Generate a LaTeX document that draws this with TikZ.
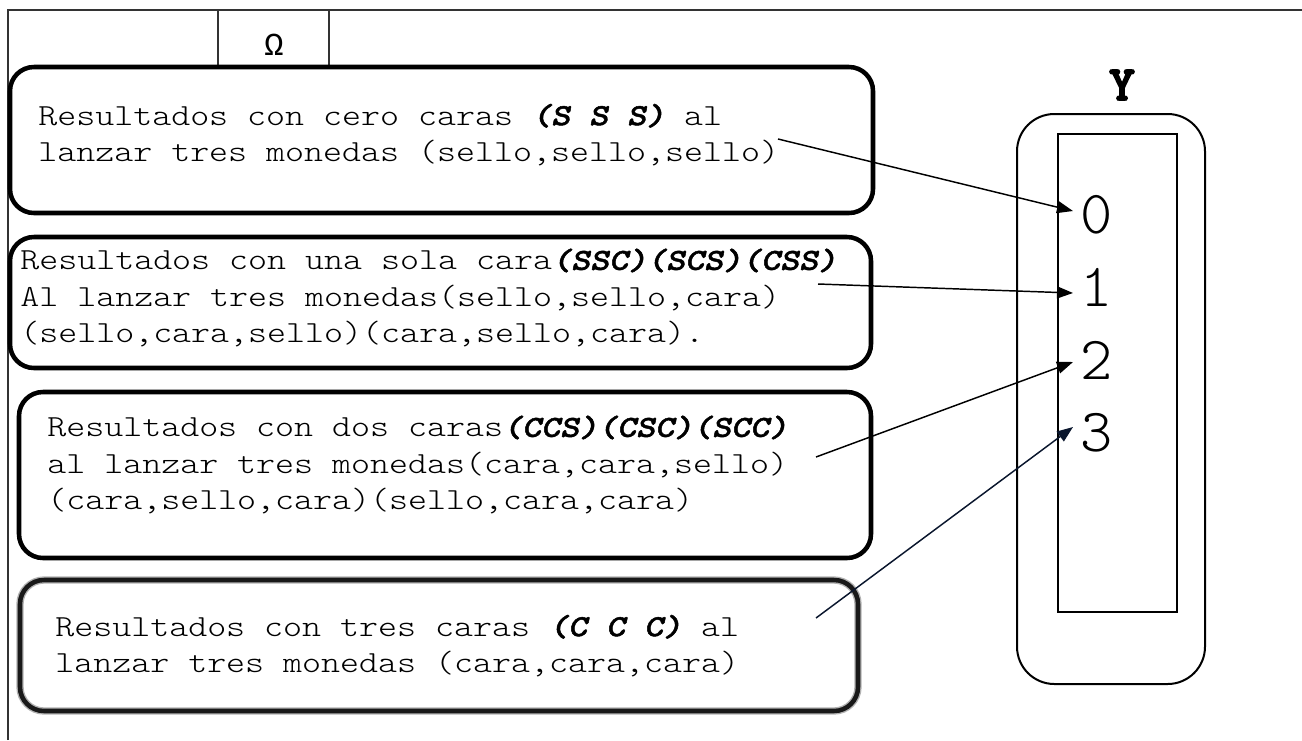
\documentclass[tikz,border=0pt]{standalone}
\usepackage{fontspec}
% light typewriter face, widened to the 0.6em advance of the original layout
\newfontfamily\cour{lmmonolt10}[Extension=.otf, UprightFont=*-regular, ItalicFont=*-oblique,
  BoldFont=*-bold, BoldItalicFont=*-boldoblique, FakeStretch=1.18,
  BoldItalicFeatures={FakeBold=1.6}]
\newfontfamily\courdig{lmmonolt10}[Extension=.otf, UprightFont=*-regular]
\newfontfamily\courheavy{lmmonolt10}[Extension=.otf, UprightFont=*-bold, FakeBold=3]
\newfontfamily\libmono{Liberation Mono}
\usetikzlibrary{arrows.meta,fit}
\begin{document}
\begin{tikzpicture}[x=0.75pt,y=-0.75pt,
  frame/.style={draw=black!80, line width=1.1pt},
  card/.style={draw, line width=3.4pt, rounded corners=18pt, inner sep=0pt},
  softcard/.style={card, draw=black!90, preaction={draw=black!30, line width=5.5pt}},
  lbl/.style={inner sep=0pt, align=left, anchor=west, font=\cour\fontsize{23}{27.4}\selectfont},
  digit/.style={inner sep=0pt, font=\courdig\fontsize{46}{50}\selectfont},
  link/.style={-{Triangle[length=12pt,width=9pt]}, line width=1.1pt}]
\useasboundingbox (0,0) rectangle (1302,740);

% outer frame and the header cell
\draw[frame] (8,740) -- (8,10) -- (1302,10);
\draw[frame] (218,10) -- (218,65);
\draw[frame] (329,10) -- (329,65);
\node[inner sep=0pt, font=\libmono\fontsize{24}{27}\selectfont] (omega) at (274,45) {Ω};

% outcome cards
\node[card, fit={(10,67) (873,213)}] (b1) {};
\node[card, fit={(10,237) (871,368)}] (b2) {};
\node[card, fit={(19,392) (871,558)}] (b3) {};
\node[softcard, fit={(20,580) (858,711)}] (b4) {};

\node[lbl] (t1) at (38,135) {Resultados con cero caras \textbf{\textit{(S S S)}} al\\lanzar tres monedas (sello,sello,sello)};
\node[lbl] (t2) at (20,298) {Resultados con una sola cara\textbf{\textit{(SSC)(SCS)(CSS)}}\\Al lanzar tres monedas(sello,sello,cara)\\(sello,cara,sello)(cara,sello,cara).};
\node[lbl] (t3) at (47,465) {Resultados con dos caras\textbf{\textit{(CCS)(CSC)(SCC)}}\\al lanzar tres monedas(cara,cara,sello)\\(cara,sello,cara)(sello,cara,cara)};
\node[lbl] (t4) at (55,646) {Resultados con tres caras \textbf{\textit{(C C C)}} al\\lanzar tres monedas (cara,cara,cara)};

% range of the variable Y
\node[font=\courheavy\fontsize{37}{40}\selectfont, inner sep=0pt] (ylab) at (1122,85) {Y};
\node[draw, line width=1.5pt, rounded corners=28pt, inner sep=0pt, fit={(1017,114) (1205,684)}] (yout) {};
\node[draw, line width=1.1pt, inner sep=0pt, fit={(1058,134) (1177,612)}] (yin) {};

\node[digit] (d0) at (1097,215) {0};
\node[digit] (d1) at (1097,287) {1};
\node[digit] (d2) at (1097,360) {2};
\node[digit] (d3) at (1097,433) {3};

% arrow tails inside the cards, tips just left of the values
\coordinate (s0) at (778,139);
\coordinate (s1) at (818,284);
\coordinate (s2) at (816,457);
\coordinate (s3) at (816,618);
\coordinate (e0) at (1073,211);
\coordinate (e1) at (1073,293);
\coordinate (e2) at (1073,362);
\coordinate (e3) at (1073,427);

\draw[link] (s0) -- (e0);
\draw[link] (s1) -- (e1);
\draw[link] (s2) -- (e2);
\draw[link, draw={rgb,255:red,10;green,22;blue,45}, fill={rgb,255:red,10;green,22;blue,45}] (s3) -- (e3);
\end{tikzpicture}
\end{document}
